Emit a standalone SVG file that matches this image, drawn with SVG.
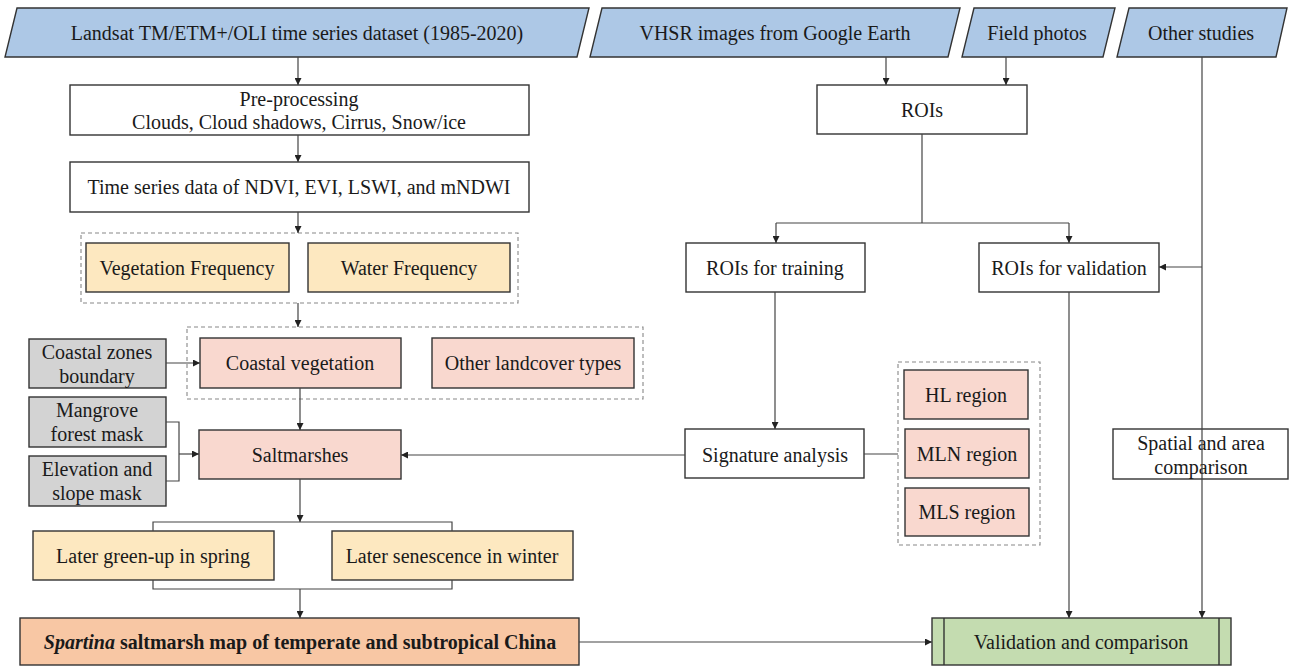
<svg xmlns="http://www.w3.org/2000/svg" width="1290" height="667" viewBox="0 0 1290 667">
<style>
text{font-family:"Liberation Serif","Times New Roman",serif;font-size:20px;fill:#1a1a1a;text-anchor:middle;dominant-baseline:central}
.b{stroke:#333;stroke-width:1.4}
.in{fill:#adc8e6}
.w{fill:#fff}
.y{fill:#fde8c0}
.p{fill:#f9d8cf}
.g{fill:#d3d3d3}
.o{fill:#f8c7a4}
.gr{fill:#c4dcb0}
.d{fill:none;stroke:#888;stroke-width:1.1;stroke-dasharray:4 3}
.c{fill:none;stroke:#444;stroke-width:1.2}
</style>
<defs>
<marker id="a" viewBox="0 0 10 10" refX="10" refY="5" markerWidth="7" markerHeight="7" markerUnits="userSpaceOnUse" orient="auto"><path d="M0,0L10,5L0,10z" fill="#222"/></marker>
</defs>
<rect width="1290" height="667" fill="#fff"/>

<g id="groups">
<rect class="d" x="81" y="233" width="437" height="70"/>
<rect class="d" x="187" y="327" width="456" height="72"/>
<rect class="d" x="898" y="362" width="142" height="183"/>
</g>

<g id="n-landsat"><polygon class="in b" points="17,8 589,8 577,57 5,57"/><text x="297" y="33">Landsat TM/ETM+/OLI time series dataset (1985-2020)</text></g>
<g id="n-vhsr"><polygon class="in b" points="602,8 960,8 948,57 590,57"/><text x="775" y="33">VHSR images from Google Earth</text></g>
<g id="n-field"><polygon class="in b" points="974,8 1115,8 1103,57 962,57"/><text x="1037" y="33">Field photos</text></g>
<g id="n-other"><polygon class="in b" points="1129,8 1287,8 1276,57 1117,57"/><text x="1201" y="33">Other studies</text></g>

<g id="n-pre"><rect class="w b" x="70" y="85" width="459" height="50"/><text x="299" y="99">Pre-processing</text><text x="299" y="122">Clouds, Cloud shadows, Cirrus, Snow/ice</text></g>
<g id="n-ts"><rect class="w b" x="70" y="162" width="459" height="50"/><text x="299" y="187">Time series data of NDVI, EVI, LSWI, and mNDWI</text></g>
<g id="n-vf"><rect class="y b" x="86" y="243" width="203" height="49"/><text x="187" y="268">Vegetation Frequency</text></g>
<g id="n-wf"><rect class="y b" x="308" y="243" width="202" height="49"/><text x="409" y="268">Water Frequency</text></g>
<g id="n-czb"><rect class="g b" x="29" y="339" width="137" height="49"/><text x="97" y="352">Coastal zones</text><text x="97" y="376">boundary</text></g>
<g id="n-cv"><rect class="p b" x="200" y="338" width="201" height="50"/><text x="300" y="363">Coastal vegetation</text></g>
<g id="n-olt"><rect class="p b" x="432" y="338" width="202" height="50"/><text x="533" y="363">Other landcover types</text></g>
<g id="n-mfm"><rect class="g b" x="29" y="397" width="137" height="50"/><text x="97" y="410">Mangrove</text><text x="97" y="434">forest mask</text></g>
<g id="n-esm"><rect class="g b" x="29" y="456" width="137" height="50"/><text x="97" y="469">Elevation and</text><text x="97" y="493">slope mask</text></g>
<g id="n-salt"><rect class="p b" x="199" y="430" width="202" height="49"/><text x="300" y="455">Saltmarshes</text></g>
<g id="n-lg"><rect class="y b" x="33" y="531" width="241" height="49"/><text x="153" y="556">Later green-up in spring</text></g>
<g id="n-ls"><rect class="y b" x="332" y="531" width="241" height="49"/><text x="452" y="556">Later senescence in winter</text></g>
<g id="n-map"><rect class="o b" x="20" y="618" width="559" height="47"/><text x="300" y="642" font-weight="bold"><tspan font-style="italic">Spartina</tspan> saltmarsh map of temperate and subtropical China</text></g>

<g id="n-rois"><rect class="w b" x="817" y="85" width="210" height="49"/><text x="922" y="110">ROIs</text></g>
<g id="n-rt"><rect class="w b" x="686" y="243" width="179" height="49"/><text x="775" y="268">ROIs for training</text></g>
<g id="n-rv"><rect class="w b" x="979" y="243" width="180" height="49"/><text x="1069" y="268">ROIs for validation</text></g>
<g id="n-sig"><rect class="w b" x="685" y="429" width="179" height="49"/><text x="775" y="455">Signature analysis</text></g>
<g id="n-hl"><rect class="p b" x="904" y="370" width="124" height="49"/><text x="966" y="395">HL region</text></g>
<g id="n-mln"><rect class="p b" x="905" y="429" width="124" height="49"/><text x="967" y="454">MLN region</text></g>
<g id="n-mls"><rect class="p b" x="905" y="488" width="124" height="48"/><text x="967" y="512">MLS region</text></g>
<g id="n-sac"><rect class="w b" x="1113" y="429" width="175" height="50"/><text x="1201" y="443">Spatial and area</text><text x="1201" y="467">comparison</text></g>
<g id="n-val"><rect class="gr b" x="932" y="618" width="299" height="47"/><line class="b" x1="944" y1="618" x2="944" y2="665"/><line class="b" x1="1219" y1="618" x2="1219" y2="665"/><text x="1081" y="642">Validation and comparison</text></g>

<g id="connectors">
<path class="c" d="M298,57V85" marker-end="url(#a)"/>
<path class="c" d="M298,135V162" marker-end="url(#a)"/>
<path class="c" d="M298,212V233" marker-end="url(#a)"/>
<path class="c" d="M298,303V327" marker-end="url(#a)"/>
<path class="c" d="M166,363H200" marker-end="url(#a)"/>
<path class="c" d="M300,388V430" marker-end="url(#a)"/>
<path class="c" d="M166,422H179V481H166"/>
<path class="c" d="M179,454H199" marker-end="url(#a)"/>
<path class="c" d="M685,455H401" marker-end="url(#a)"/>
<path class="c" d="M864,454H898"/>
<path class="c" d="M300,479V522" marker-end="url(#a)"/>
<path class="c" d="M153,531V522H452V531"/>
<path class="c" d="M153,580V589H452V580"/>
<path class="c" d="M300,589V618" marker-end="url(#a)"/>
<path class="c" d="M579,642H932" marker-end="url(#a)"/>
<path class="c" d="M886,57V85" marker-end="url(#a)"/>
<path class="c" d="M1006,57V85" marker-end="url(#a)"/>
<path class="c" d="M922,134V223"/>
<path class="c" d="M776,223H1069"/>
<path class="c" d="M776,223V243" marker-end="url(#a)"/>
<path class="c" d="M1069,223V243" marker-end="url(#a)"/>
<path class="c" d="M775,292V429" marker-end="url(#a)"/>
<path class="c" d="M1069,292V618" marker-end="url(#a)"/>
<path class="c" d="M1202,57V618" marker-end="url(#a)"/>
<path class="c" d="M1202,267H1159" marker-end="url(#a)"/>
</g>
</svg>
